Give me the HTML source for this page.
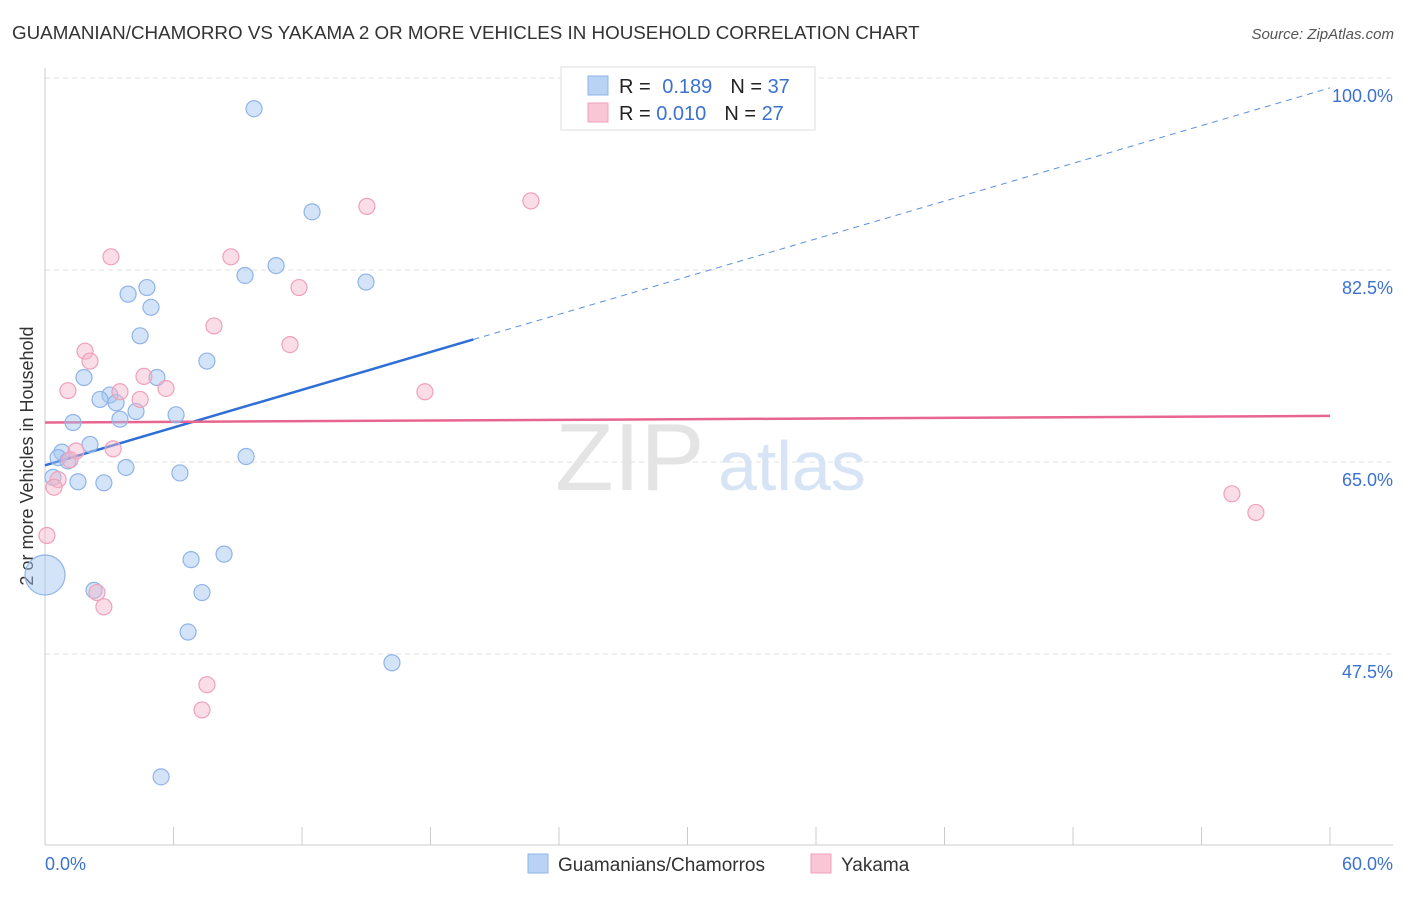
<!DOCTYPE html>
<html><head><meta charset="utf-8"><style>
body{margin:0;background:#fff;font-family:"Liberation Sans",sans-serif;}
svg text{font-family:"Liberation Sans",sans-serif;}
</style></head><body>
<svg width="1406" height="892" viewBox="0 0 1406 892">
<text x="12" y="39" font-size="18.8" fill="#333">GUAMANIAN/CHAMORRO VS YAKAMA 2 OR MORE VEHICLES IN HOUSEHOLD CORRELATION CHART</text>
<text x="1394" y="39" font-size="15" fill="#555" text-anchor="end" font-style="italic">Source: ZipAtlas.com</text>
<g id="grid"></g>
<text x="555" y="490" font-size="96" fill="#e4e4e4" font-family="Liberation Serif">ZIP</text>
<text x="718" y="490" font-size="70" fill="#d6e4f6">atlas</text>
<line x1="45" y1="68" x2="45" y2="845" stroke="#ccc"/>
<line x1="45" y1="845" x2="1393" y2="845" stroke="#ccc"/>
<g id="ticks"></g>
<text x="45" y="870" font-size="18" fill="#3b72d0">0.0%</text>
<text x="1393" y="870" font-size="18" fill="#3b72d0" text-anchor="end">60.0%</text>
<text transform="translate(33,456) rotate(-90)" font-size="18" fill="#333" text-anchor="middle">2 or more Vehicles in Household</text>
<g id="lines"></g>
<g id="pts"></g>
<g>
<rect x="561" y="67" width="254" height="63" fill="#fff" stroke="#ddd"/>
<rect x="588" y="76" width="20" height="19" fill="#b9d3f5" stroke="#8fb4e8"/>
<rect x="588" y="103" width="20" height="19" fill="#f9c6d5" stroke="#f0a0bb"/>
<text x="619" y="93" font-size="20" fill="#222">R = <tspan fill="#3b72d0" dx="6">0.189</tspan><tspan dx="18">N = </tspan><tspan fill="#3b72d0">37</tspan></text>
<text x="619" y="120" font-size="20" fill="#222">R = <tspan fill="#3b72d0">0.010</tspan><tspan dx="18">N = </tspan><tspan fill="#3b72d0">27</tspan></text>
</g>
<g>
<rect x="528" y="854" width="20" height="19" fill="#b9d3f5" stroke="#8fb4e8"/>
<text x="558" y="871" font-size="19" fill="#333">Guamanians/Chamorros</text>
<rect x="811" y="854" width="20" height="19" fill="#f9c6d5" stroke="#f0a0bb"/>
<text x="841" y="871" font-size="19" fill="#333">Yakama</text>
</g>
</svg>
<script>
const yTicks=[47.5,65.0,82.5,100.0];
const blueX=[9.76,12.47,10.79,9.34,14.99,4.76,3.88,4.95,4.44,7.56,1.82,5.23,3.03,2.57,3.32,4.25,1.31,6.12,3.50,2.10,0.79,0.61,1.07,9.39,3.78,6.30,0.37,1.54,2.75,6.82,8.36,7.33,2.29,6.68,16.2,5.42,0];
const blueY=[97.2,87.8,82.9,82.0,81.4,80.9,80.3,79.1,76.5,74.2,72.7,72.7,71.1,70.7,70.4,69.6,68.6,69.3,68.9,66.6,65.9,65.4,65.1,65.5,64.5,64.0,63.6,63.2,63.1,56.1,56.6,53.1,53.3,49.5,46.7,36.3,54.7];
const blueR=[8,8,8,8,8,8,8,8,8,8,8,8,8,8,8,8,8,8,8,8,8,8,8,8,8,8,8,8,8,8,8,8,8,8,8,8,20];
const pinkX=[22.69,15.03,3.08,8.68,11.86,7.89,11.44,1.87,2.10,4.62,5.65,1.07,3.50,17.74,4.44,3.18,1.45,0.61,0.42,0.09,2.43,2.75,55.42,56.54,7.56,7.33,1.17];
const pinkY=[88.8,88.3,83.7,83.7,80.9,77.4,75.7,75.1,74.2,72.8,71.7,71.5,71.4,71.4,70.7,66.2,66.0,63.4,62.7,58.3,53.1,51.8,62.1,60.4,44.7,42.4,65.2];
const blueTrend=[64.7,99.1];
const pinkTrend=[68.6,69.2];
const blueSolidEnd=20;
const NS='http://www.w3.org/2000/svg';
const sx=v=>45+v*(1285/60);
const sy=v=>78+(100-v)*10.971;
function mk(t,a,p){const e=document.createElementNS(NS,t);for(const k in a)e.setAttribute(k,a[k]);document.getElementById(p).appendChild(e);return e;}
yTicks.forEach(t=>{
 const l=mk('line',{x1:45,x2:1393,y1:sy(t),y2:sy(t),stroke:'#e2e2e2','stroke-dasharray':'5,4'},'grid');
 
 
 const tx=mk('text',{x:1393,y:sy(t)+24,'font-size':18,fill:'#3b72d0','text-anchor':'end'},'grid');
 tx.textContent=t.toFixed(1)+'%';
 
 
});
for(let i=0;i<=10;i++){
 const l=mk('line',{x1:sx(i*6),x2:sx(i*6),y1:827,y2:845,stroke:'#ccc'},'ticks');
 
 
}
const bt=x=>blueTrend[0]+(blueTrend[1]-blueTrend[0])*x/60;
let l=mk('line',{x1:sx(0),y1:sy(bt(0)),x2:sx(blueSolidEnd),y2:sy(bt(blueSolidEnd)),stroke:'#2f6fd6','stroke-width':2.5},'lines');


l=mk('line',{x1:sx(blueSolidEnd),y1:sy(bt(blueSolidEnd)),x2:sx(60),y2:sy(bt(60)),stroke:'#5b8fe0','stroke-width':1,'stroke-dasharray':'6,5'},'lines');


l=mk('line',{x1:sx(0),y1:sy(pinkTrend[0]),x2:sx(60),y2:sy(pinkTrend[1]),stroke:'#e8658f','stroke-width':2.5},'lines');


blueX.forEach((x,i)=>{
 const c=mk('circle',{cx:sx(x),cy:sy(blueY[i]),r:blueR[i],fill:'rgba(160,195,240,0.45)',stroke:'#8fb4e8','stroke-width':1.2},'pts');
 
 
});
pinkX.forEach((x,i)=>{
 const c=mk('circle',{cx:sx(x),cy:sy(pinkY[i]),r:8,fill:'rgba(245,180,200,0.45)',stroke:'#f0a0bb','stroke-width':1.2},'pts');
 
 
});
</script>
</body></html>
